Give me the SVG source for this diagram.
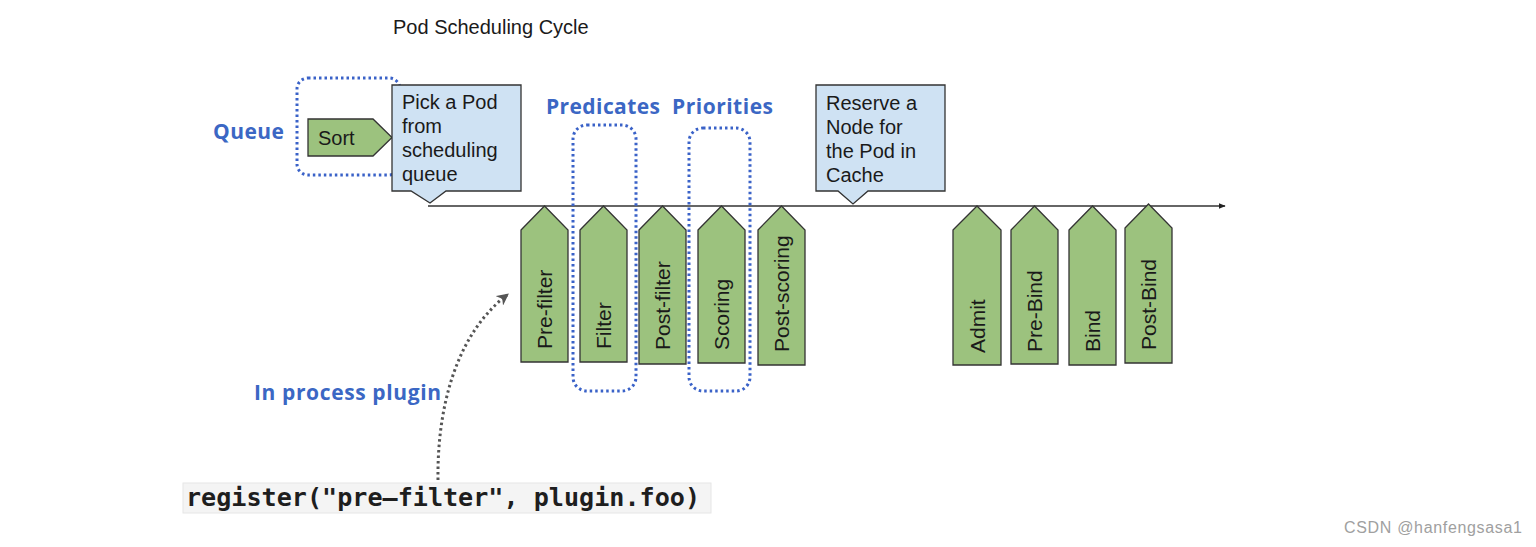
<svg xmlns="http://www.w3.org/2000/svg" width="1536" height="547" viewBox="0 0 1536 547">
<defs>
<style>
.t{font-family:"Liberation Sans",Arial,sans-serif;fill:#1a1a1a}
.lbl{font-family:"Open Sans","Liberation Sans",sans-serif;font-weight:bold;fill:#3b67c4;font-size:21px}
.stage{fill:#9cc27e;stroke:#333;stroke-width:1.3}
.call{fill:#cfe2f3;stroke:#333;stroke-width:1.3}
.dot{fill:none;stroke:#3a62c8;stroke-width:3;stroke-dasharray:2.5 3}
.pl{font-family:"Liberation Sans",Arial,sans-serif;font-size:21px;fill:#1a1a1a}
</style>
<marker id="ah" viewBox="0 0 10 10" refX="9" refY="5" markerWidth="7" markerHeight="7" orient="auto" markerUnits="userSpaceOnUse"><path d="M0,1 L10,5 L0,9 Z" fill="#222"/></marker>
<marker id="ah2" viewBox="0 0 10 10" refX="8" refY="5" markerWidth="12" markerHeight="12" orient="auto" markerUnits="userSpaceOnUse"><path d="M0,0 L10,5 L0,10 L3,5 Z" fill="#555"/></marker>
</defs>
<rect width="1536" height="547" fill="#fff"/>
<text class="t" x="393" y="34" font-size="20">Pod Scheduling Cycle</text>

<g id="connectors">
<line x1="428" y1="206" x2="1225" y2="206" stroke="#333" stroke-width="1.3" marker-end="url(#ah)"/>
<path d="M438,480 C437,410 455,335 507,295" fill="none" stroke="#555" stroke-width="3" stroke-dasharray="2.5 3" marker-end="url(#ah2)"/>
</g>

<g id="queue">
<text class="lbl" x="213" y="139" textLength="71">Queue</text>
<path class="stage" d="M308,119 L373,119 L392,137.5 L373,156 L308,156 Z"/>
<text class="t" x="318" y="145" font-size="20">Sort</text>
<rect class="dot" x="297" y="78" width="103" height="97" rx="11"/>
</g>

<g id="pick-pod">
<path class="call" d="M392,85 L521,85 L521,191 L446,191 L430,203 L411,191 L392,191 Z"/>
<text class="t" font-size="20"><tspan x="402" y="109">Pick a Pod</tspan><tspan x="402" y="133">from</tspan><tspan x="402" y="157">scheduling</tspan><tspan x="402" y="181">queue</tspan></text>
</g>

<g id="reserve-node">
<path class="call" d="M816,85 L945,85 L945,191 L868,191 L853,204 L838,191 L816,191 Z"/>
<text class="t" font-size="20"><tspan x="826" y="110">Reserve a</tspan><tspan x="826" y="134">Node for</tspan><tspan x="826" y="158">the Pod in</tspan><tspan x="826" y="182">Cache</tspan></text>
</g>

<text class="lbl" x="546" y="114" textLength="114">Predicates</text>
<text class="lbl" x="672" y="114" textLength="101">Priorities</text>

<g id="pre-filter"><path class="stage" d="M521,230 L544.5,206 L568,230 L568,362 L521,362 Z"/><text class="pl" transform="translate(552,349) rotate(-90)">Pre-filter</text></g>
<g id="filter"><path class="stage" d="M580,230 L603.5,206 L627,230 L627,362 L580,362 Z"/><text class="pl" transform="translate(611,349) rotate(-90)">Filter</text></g>
<g id="post-filter"><path class="stage" d="M639,230 L662.5,206 L686,230 L686,364 L639,364 Z"/><text class="pl" transform="translate(670,350) rotate(-90)">Post-filter</text></g>
<g id="scoring"><path class="stage" d="M698,230 L721.5,206 L745,230 L745,363 L698,363 Z"/><text class="pl" transform="translate(729,350) rotate(-90)">Scoring</text></g>
<g id="post-scoring"><path class="stage" d="M758,230 L781.5,206 L805,230 L805,365 L758,365 Z"/><text class="pl" transform="translate(789,352) rotate(-90)">Post-scoring</text></g>
<g id="admit"><path class="stage" d="M953,230 L977,206 L1001,230 L1001,365 L953,365 Z"/><text class="pl" transform="translate(984.5,353) rotate(-90)">Admit</text></g>
<g id="pre-bind"><path class="stage" d="M1011,230 L1034.5,206 L1058,230 L1058,364 L1011,364 Z"/><text class="pl" transform="translate(1042,352) rotate(-90)">Pre-Bind</text></g>
<g id="bind"><path class="stage" d="M1069,230 L1092.5,206 L1116,230 L1116,365 L1069,365 Z"/><text class="pl" transform="translate(1100,352) rotate(-90)">Bind</text></g>
<g id="post-bind"><path class="stage" d="M1125,228 L1148.5,204 L1172,228 L1172,363 L1125,363 Z"/><text class="pl" transform="translate(1156,350) rotate(-90)">Post-Bind</text></g>

<g id="predicates-box"><rect class="dot" x="573" y="125" width="63" height="266" rx="14"/></g>
<g id="priorities-box"><rect class="dot" x="689" y="128" width="61" height="263" rx="14"/></g>

<g id="plugin-label"><text class="lbl" x="254" y="400" textLength="187">In process plugin</text></g>

<g id="register">
<rect x="183" y="483" width="528" height="30" fill="#f4f4f4" stroke="#e6e6e6" stroke-width="1"/>
<text x="186" y="506" font-family="'DejaVu Sans Mono','Liberation Mono',monospace" font-weight="bold" font-size="24.5" fill="#1e1e1e" textLength="514" lengthAdjust="spacingAndGlyphs">register("pre–filter", plugin.foo)</text>
</g>

<text x="1344" y="533" font-family="'Liberation Sans',Arial,sans-serif" font-size="16" fill="#a0a0a0" textLength="178">CSDN @hanfengsasa1</text>
</svg>
